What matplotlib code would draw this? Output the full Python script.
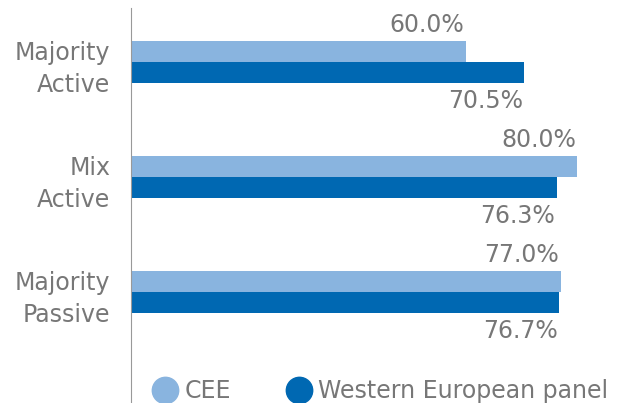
import matplotlib.pyplot as plt
import numpy as np
from matplotlib.lines import Line2D

categories = ['Majority\nActive', 'Mix\nActive', 'Majority\nPassive']
cee = [60.0, 80.0, 77.0]
western = [70.5, 76.3, 76.7]

light = '#89B4DF'
dark = '#0068B2'
grey = '#777777'

plt.rcParams['font.family'] = ['DejaVu Sans']

fig = plt.figure(figsize=(6.22, 4.03), dpi=100)
ax = fig.add_axes([131/622, 0, 491/622, 395/403])

y = np.arange(len(categories))
h = 0.183
b1 = ax.barh(y - h/2, cee, height=h, color=light)
b2 = ax.barh(y + h/2, western, height=h, color=dark)

fs = 17
for bar, v in zip(b1, cee):
    ax.annotate(f'{v:.1f}%', (bar.get_width(), bar.get_y()), xytext=(-1, 3),
                textcoords='offset points', ha='right', va='bottom',
                fontsize=fs, color=grey)
for bar, v in zip(b2, western):
    ax.annotate(f'{v:.1f}%', (bar.get_width(), bar.get_y() + bar.get_height()), xytext=(-1, -4),
                textcoords='offset points', ha='right', va='top',
                fontsize=fs, color=grey)

ax.set_xlim(0, 88)
ax.set_ylim(2.965, -0.47)
ax.set_yticks(y)
ax.set_yticklabels(categories, fontsize=fs, color=grey, linespacing=1.45)
ax.tick_params(axis='y', length=0, pad=15)
ax.set_xticks([])
for s in ['top', 'right', 'bottom']:
    ax.spines[s].set_visible(False)
ax.spines['left'].set_color('#999999')

handles = [Line2D([], [], marker='o', ls='', markersize=19, color=light),
           Line2D([], [], marker='o', ls='', markersize=19, color=dark)]
leg = ax.legend(handles, ['CEE', 'Western European panel'], loc='lower left',
                bbox_to_anchor=(0.0, -0.055), ncol=2, frameon=False,
                fontsize=fs, handletextpad=0.25, columnspacing=2.35,
                handlelength=1.1)
for t in leg.get_texts():
    t.set_color(grey)

plt.savefig('out.png', dpi=100)
